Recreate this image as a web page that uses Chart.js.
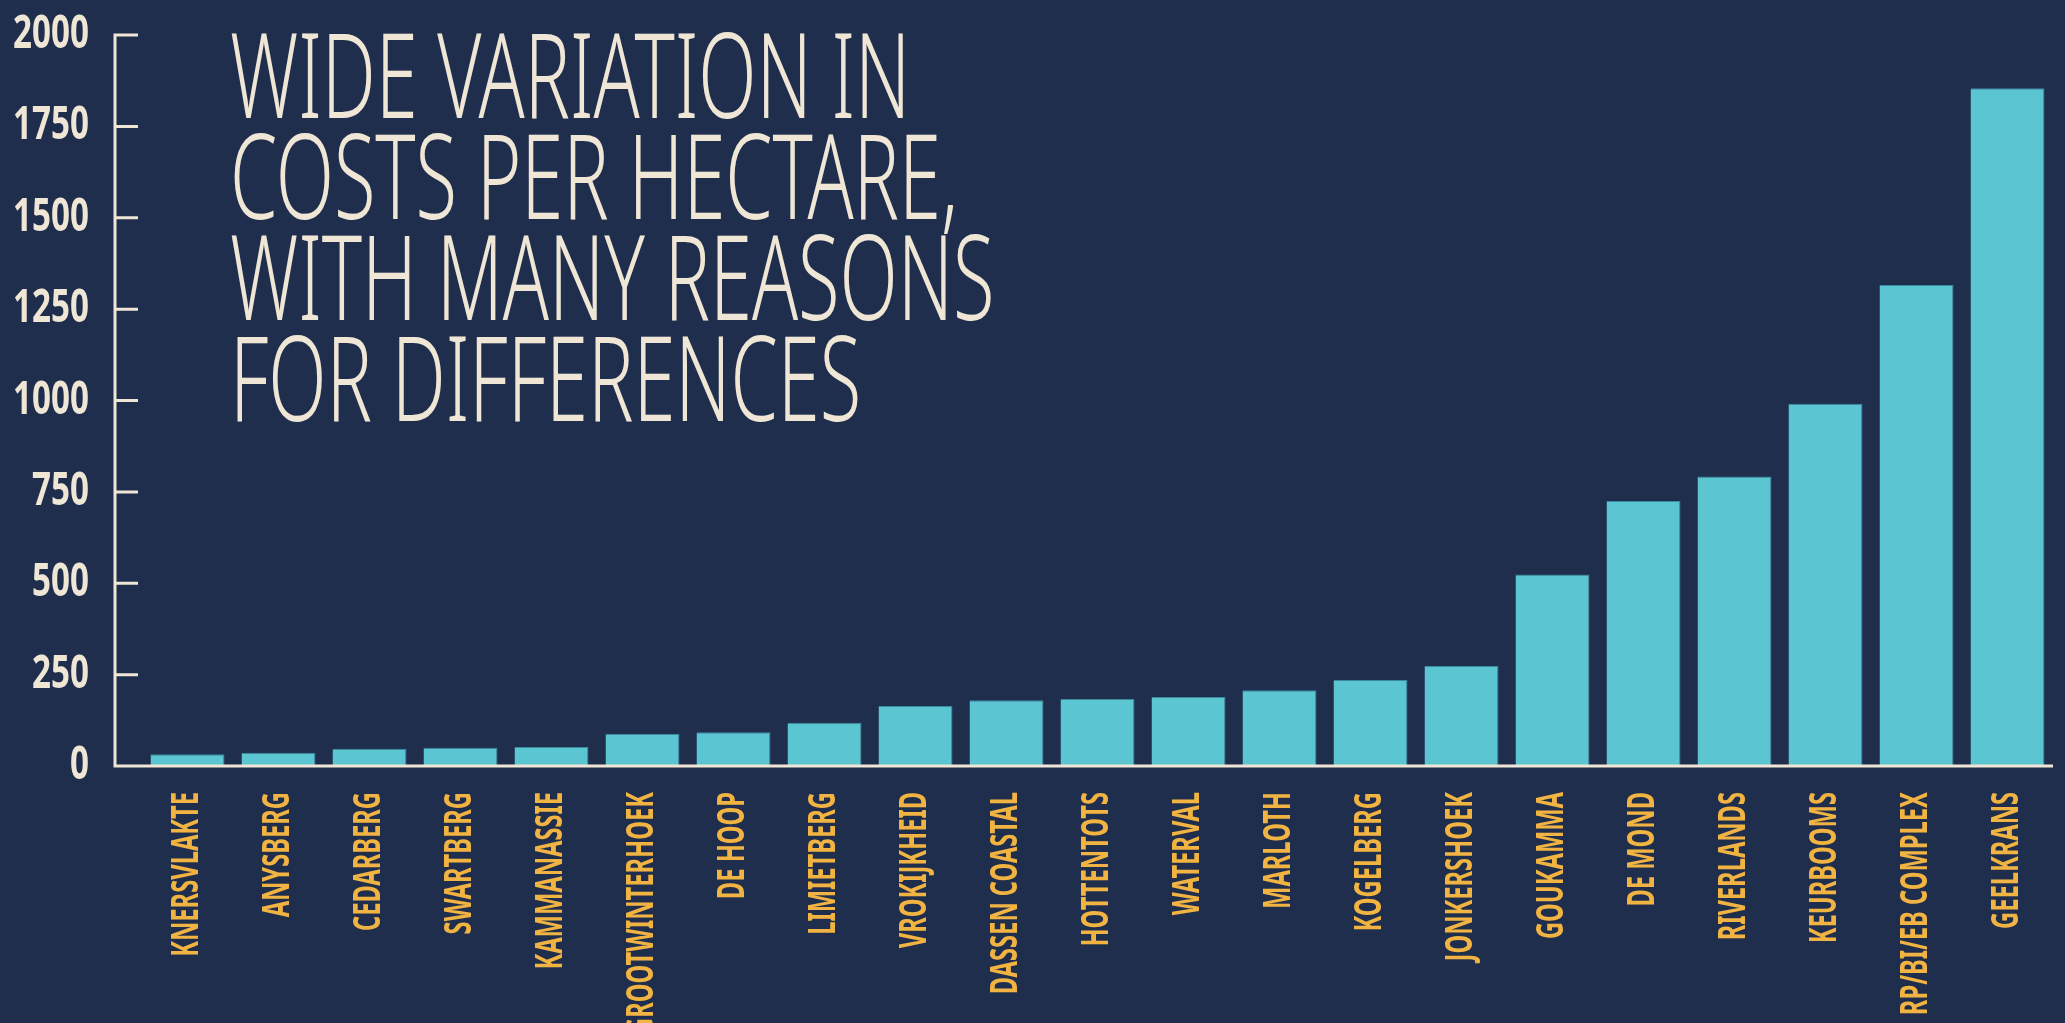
<!DOCTYPE html>
<html>
<head>
<meta charset="utf-8">
<script src="https://cdn.jsdelivr.net/npm/chart.js@4/dist/chart.umd.min.js"></script>
<style>
    html, body { margin: 0; padding: 0; background: #1f2e4d; overflow: hidden; }
    #wrap { position: relative; width: 2065px; height: 1023px; }
    canvas { display: block; }
    #title {
        position: absolute; left: 230px; top: 22px;
        font-family: "Noto Sans", Roboto, sans-serif; font-weight: 300;
        font-size: 117px; line-height: 101px; color: #efe6d6;
        transform-origin: 0 0; white-space: nowrap;
    }
    #title span { display: inline-block; }
</style>
</head>
<body>
<div id="wrap">
    <canvas id="costChart" width="2065" height="1023"></canvas>
    <div id="title">
        <div><span>WIDE VARIATION IN</span></div>
        <div><span>COSTS PER HECTARE,</span></div>
        <div><span id="widest">WITH MANY REASONS</span></div>
        <div><span>FOR DIFFERENCES</span></div>
    </div>
</div>
<script>
const categories = [
    "KNERSVLAKTE", "ANYSBERG", "CEDARBERG", "SWARTBERG", "KAMMANASSIE",
    "GROOTWINTERHOEK", "DE HOOP", "LIMIETBERG", "VROKIJKHEID", "DASSEN COASTAL",
    "HOTTENTOTS", "WATERVAL", "MARLOTH", "KOGELBERG", "JONKERSHOEK",
    "GOUKAMMA", "DE MOND", "RIVERLANDS", "KEURBOOMS", "RP/BI/EB COMPLEX", "GEELKRANS"
];
const costPerHectare = [
    32, 36, 47, 50, 52,
    88, 92, 118, 164, 180,
    183, 189, 207, 235, 274,
    524, 725, 792, 991, 1316, 1854
];
const yMin = 0;
const yMax = 2000;
const yStep = 250;

const cream = "#efe6d6";
const teal = "#5bc5d1";
const orange = "#f1b342";
const labelFamily = "'Noto Sans', 'Open Sans', sans-serif";
const xFont = { family: labelFamily, weight: "bold", size: 38 };
const yFont = { family: labelFamily, weight: "bold", size: 46 };

// squeeze the title to the width of the original lettering
const widest = document.getElementById("widest");
const title = document.getElementById("title");
title.style.transform = "scaleX(" + (764 / widest.offsetWidth) + ")";

const ctx = document.getElementById("costChart").getContext("2d");

// no condensed face is installed, so tick text is narrowed horizontally
const squeeze = {};
function addSqueeze(font, sample, targetWidth) {
    ctx.font = font.weight + " " + font.size + "px " + font.family;
    squeeze[ctx.font] = targetWidth / ctx.measureText(sample).width;
}
addSqueeze(xFont, "GEELKRANS", 137);
addSqueeze(yFont, "2000", 76);
const rawFillText = ctx.fillText;
ctx.fillText = function (text, x, y, maxWidth) {
    const k = squeeze[this.font];
    if (!k) return rawFillText.call(this, text, x, y, maxWidth);
    this.save();
    this.scale(k, 1);
    rawFillText.call(this, text, x / k, y);
    this.restore();
};

// axis line sits a bit left of the first bar, with ticks pointing inward
const axisLines = {
    id: "axisLines",
    afterDraw(chart) {
        const { ctx, chartArea, scales: { y } } = chart;
        const x0 = chartArea.left - 27;
        const yZero = y.getPixelForValue(yMin);
        ctx.save();
        ctx.strokeStyle = cream;
        ctx.lineWidth = 3;
        ctx.beginPath();
        ctx.moveTo(x0, y.getPixelForValue(yMax) - 1.5);
        ctx.lineTo(x0, yZero);
        ctx.lineTo(chartArea.right, yZero);
        y.ticks.forEach((t) => {
            const py = y.getPixelForValue(t.value);
            ctx.moveTo(x0, py);
            ctx.lineTo(x0 + 23, py);
        });
        ctx.stroke();
        ctx.restore();
    },
};

new Chart(ctx, {
    type: "bar",
    data: {
        labels: categories,
        datasets: [{
            data: costPerHectare,
            backgroundColor: teal,
            borderColor: "#3c8aa0",
            borderWidth: { top: 1, right: 1, left: 0, bottom: 0 },
            borderSkipped: false,
            barPercentage: 0.813,
            categoryPercentage: 1,
        }],
    },
    options: {
        responsive: false,
        animation: false,
        layout: { padding: { top: 35, right: 12, left: 0, bottom: 0 } },
        plugins: {
            legend: { display: false },
            tooltip: { enabled: false },
        },
        scales: {
            x: {
                grid: { display: false, drawTicks: false },
                border: { display: false },
                ticks: {
                    color: orange,
                    font: xFont,
                    padding: 26,
                    minRotation: 90,
                    maxRotation: 90,
                    autoSkip: false,
                },
                afterFit: (s) => {
                    s.height = 257;
                    s.paddingLeft = 0;
                    s.paddingRight = 0;
                },
            },
            y: {
                min: yMin,
                max: yMax,
                grid: { display: false, drawTicks: false },
                border: { display: false },
                ticks: {
                    stepSize: yStep,
                    color: cream,
                    font: yFont,
                    padding: 53,
                    callback: (v) => String(v),
                },
                afterFit: (s) => {
                    s.width = 142;
                    s.paddingTop = 0;
                    s.paddingBottom = 0;
                },
            },
        },
    },
    plugins: [axisLines],
});
</script>
</body>
</html>
